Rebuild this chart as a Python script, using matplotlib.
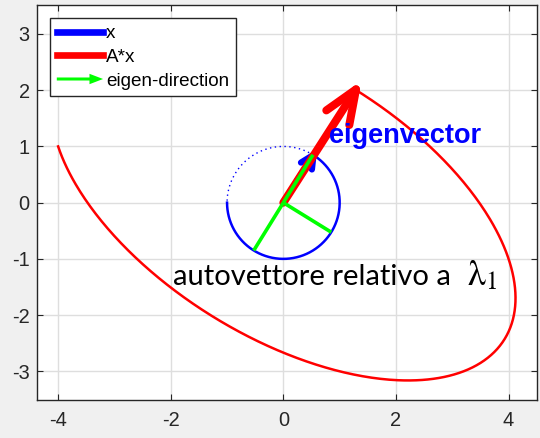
import numpy as np
import matplotlib
matplotlib.use("Agg")
import matplotlib.pyplot as plt
from matplotlib.lines import Line2D
from matplotlib.patches import FancyArrow
from matplotlib.legend_handler import HandlerBase

# Linear map and the current position of the unit vector x
A = np.array([[4.0, -1.0],
              [-1.0, 3.0]])
x_current = np.array([0.535, 0.850])          # x on the unit circle (eigenvector)
sweep_start_deg = 180.0                       # where x started its sweep
eig_dirs = np.array([[0.526, 0.851],
                     [-0.526, -0.851],
                     [0.851, -0.526]])        # eigen-direction segments

legend_labels = ["x", "A*x", "eigen-direction"]
xticks = [-4, -2, 0, 2, 4]
yticks = [-3, -2, -1, 0, 1, 2, 3]
label_eig = "eigenvector"
label_auto = "autovettore relativo a"
label_lambda = r"$\mathrm{\lambda}_\mathrm{1}$"

BLUE = "#0000ff"
RED = "#ff0000"
GREEN = "#00ff00"
DARK = "#262626"

plt.rcParams["axes.unicode_minus"] = False
plt.rcParams["font.family"] = ["Liberation Sans", "DejaVu Sans"]
plt.rcParams["mathtext.fontset"] = "stix"

fig = plt.figure(figsize=(5.40, 4.38), dpi=100, facecolor="#f0f0f0")
ax = fig.add_axes([37.3 / 540, 38.0 / 438, 500.0 / 540, 394.7 / 438])
ax.set_facecolor("white")
ax.set_xlim(-4.37, 4.51)
ax.set_ylim(-3.51, 3.51)

# sweep of x around the unit circle and its image A*x
a0 = np.deg2rad(sweep_start_deg)
a_cur = np.arctan2(x_current[1], x_current[0]) + 2 * np.pi
t_done = np.linspace(a0, a_cur, 400)
t_rest = np.linspace(a_cur - 2 * np.pi, a0, 200)
circ_done = np.vstack([np.cos(t_done), np.sin(t_done)])
circ_rest = np.vstack([np.cos(t_rest), np.sin(t_rest)])
img_done = A @ circ_done

ax.plot(circ_rest[0], circ_rest[1], color=BLUE, lw=1.0, ls=(0, (1, 2.5)), zorder=2)
ax.plot(img_done[0], img_done[1], color=RED, lw=1.8, zorder=2)
ax.plot(circ_done[0], circ_done[1], color=BLUE, lw=1.8, zorder=2)


def draw_arrow(vec, color, lw, head_frac, head_deg, z):
    vec = np.asarray(vec, dtype=float)
    length = np.hypot(*vec)
    back = -vec / length
    hl = head_frac * length
    barbs = []
    for s in (1, -1):
        ang = np.deg2rad(s * head_deg)
        rot = np.array([[np.cos(ang), -np.sin(ang)], [np.sin(ang), np.cos(ang)]])
        barbs.append(vec + hl * (rot @ back))
    kw = dict(color=color, lw=lw, solid_capstyle="round",
              solid_joinstyle="round", zorder=z)
    ax.plot([0, vec[0]], [0, vec[1]], **kw)
    ax.plot([barbs[0][0], vec[0], barbs[1][0]],
            [barbs[0][1], vec[1], barbs[1][1]], **kw)


Ax = A @ x_current
draw_arrow(x_current, BLUE, 4.5, 0.26, 26, 3)
draw_arrow(Ax, RED, 5.8, 0.27, 22, 4)

for d in eig_dirs:
    ax.plot([0, d[0]], [0, d[1]], color=GREEN, lw=2.6, solid_capstyle="butt", zorder=5)

ax.text(0.817, 1.057, label_eig, color=BLUE, fontsize=19.5, fontweight="bold",
        ha="left", va="baseline", zorder=6)
ax.text(-1.965, -1.464, label_auto, color="black", fontsize=21,
        family=["Lato", "DejaVu Sans"], ha="left", va="baseline", zorder=6)
ax.text(3.257, -1.464, label_lambda, color="black", fontsize=26,
        ha="left", va="baseline", zorder=6)

# axes styling
ax.set_xticks(xticks)
ax.set_yticks(yticks)
ax.set_xticklabels([str(v) for v in xticks])
ax.set_yticklabels([str(v) for v in yticks])
ax.grid(True, color="#dedede", lw=1.0)
ax.set_axisbelow(True)
ax.tick_params(direction="in", length=4, width=0.8, color=DARK, labelcolor=DARK,
               labelsize=14.4, top=True, right=True)
ax.tick_params(axis="x", pad=8)
ax.tick_params(axis="y", pad=5.5)
for sp in ax.spines.values():
    sp.set_color(DARK)
    sp.set_linewidth(1.0)


class HandlerArrow(HandlerBase):
    def create_artists(self, legend, orig_handle, xdescent, ydescent,
                       width, height, fontsize, trans):
        y = 0.5 * height - ydescent
        arr = FancyArrow(-xdescent, y, width, 0, width=0.16 * fontsize,
                         head_width=0.55 * fontsize, head_length=0.72 * fontsize,
                         length_includes_head=True, color=orig_handle.get_color(),
                         lw=0, transform=trans)
        return [arr]


h_x = Line2D([], [], color=BLUE, lw=4.8)
h_ax = Line2D([], [], color=RED, lw=4.8)
h_e = Line2D([], [], color=GREEN, lw=2)
leg = ax.legend([h_x, h_ax, h_e], legend_labels, loc="upper left",
                bbox_to_anchor=(50.0 / 540, 1 - 18.3 / 438),
                bbox_transform=fig.transFigure, borderaxespad=0,
                fontsize=13.6, handlelength=2.45, handletextpad=0.15,
                labelspacing=0.34, borderpad=0.36, fancybox=False,
                framealpha=1, edgecolor=DARK, handler_map={h_e: HandlerArrow()})
leg.get_frame().set_linewidth(1.0)
leg.set_zorder(10)

fig.savefig("out.png", dpi=100, facecolor=fig.get_facecolor())
